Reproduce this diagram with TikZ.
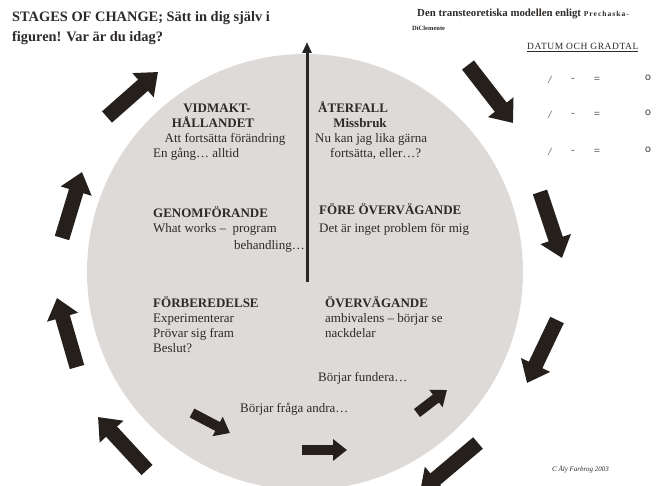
\documentclass[tikz,border=0pt]{standalone}
\usepackage{fontspec}
\setmainfont{Liberation Serif}
\usetikzlibrary{arrows.meta}
\definecolor{wheel}{RGB}{222,218,216}
\definecolor{arrowc}{RGB}{38,32,28}
\definecolor{ink}{RGB}{45,42,40}

\begin{document}
\begin{tikzpicture}[x=1pt,y=-1pt,
    txt/.style={anchor=base west,inner sep=0pt,text=ink,font=\fontsize{13}{15}\selectfont},
    hd/.style={txt,font=\fontsize{13}{15}\selectfont\bfseries},
    note/.style={anchor=base west,inner sep=0pt,text=ink,font=\fontsize{6.5}{8}\selectfont\bfseries},
    datemark/.style={anchor=center,inner sep=0pt,text=black!60,font=\fontsize{11}{12}\selectfont\bfseries},
    blk/.style={draw=arrowc,line width=15pt,-{Triangle[width=31pt,length=20pt]}},
    sblk/.style={draw=arrowc,line width=10pt,-{Triangle[width=21pt,length=14pt]}}]
    \useasboundingbox[fill=white] (0,0) rectangle (657,486);
    \fill[wheel] (305,272) circle (218);

    \coordinate (axb) at (307,282);
    \coordinate (axt) at (307,42);
    \draw[draw=black!85,line width=3pt,-{Triangle[width=9pt,length=11pt]}] (axb) -- (axt);

    \node[txt,font=\fontsize{14.4}{18}\selectfont\bfseries] (t1) at (12,22) {STAGES OF CHANGE; Sätt in dig själv i};
    \node[txt,font=\fontsize{14.4}{18}\selectfont\bfseries] (t2) at (12,42) {figuren! Var är du idag?};

    \node[note,font=\fontsize{10.8}{12}\selectfont\bfseries] (den) at (417,17) {Den transteoretiska modellen enligt {\fontsize{7.5}{8}\selectfont\addfontfeatures{LetterSpace=14}Prechaska-}};
    \node[note] (dic) at (412,31) {DiClemente};
    \node[txt,font=\fontsize{9.5}{10}\selectfont\addfontfeatures{LetterSpace=6}] (datum) at (527,50) {\underline{DATUM OCH GRADTAL}};

    \node[datemark] (s1) at (550,80) {\itshape /};
    \node[datemark] (d1) at (573,80) {-};
    \node[datemark] (e1) at (597,80) {=};
    \node[datemark,text=black!80,font=\fontsize{12}{12}\selectfont\sffamily] (o1) at (648,78) {o};
    \node[datemark] (s2) at (550,115) {\itshape /};
    \node[datemark] (d2) at (573,115) {-};
    \node[datemark] (e2) at (597,115) {=};
    \node[datemark,text=black!80,font=\fontsize{12}{12}\selectfont\sffamily] (o2) at (648,113) {o};
    \node[datemark] (s3) at (550,152) {\itshape /};
    \node[datemark] (d3) at (573,152) {-};
    \node[datemark] (e3) at (597,152) {=};
    \node[datemark,text=black!80,font=\fontsize{12}{12}\selectfont\sffamily] (o3) at (648,150) {o};

    \node[hd,anchor=base] (vid) at (217,113) {VIDMAKT-};
    \node[hd,anchor=base] (hall) at (213,128) {HÅLLANDET};
    \node[txt,anchor=base] (att) at (225,143) {Att fortsätta förändring};
    \node[txt] (alltid) at (153,158) {En gång\ldots\ alltid};

    \node[hd] (aterf) at (318,113) {ÅTERFALL};
    \node[hd,anchor=base] (miss) at (360,128) {Missbruk};
    \node[txt] (nukan) at (315,143) {Nu kan jag lika gärna};
    \node[txt] (eller) at (330,158) {fortsätta, eller\ldots?};

    \node[hd] (genom) at (153,218) {GENOMFÖRANDE};
    \node[txt] (works) at (153,233) {What works --\ \ program};
    \node[txt,anchor=base east] (beh) at (305,250) {behandling\ldots};

    \node[hd] (fore) at (319,215) {FÖRE ÖVERVÄGANDE};
    \node[txt] (inget) at (319,233) {Det är inget problem för mig};

    \node[hd] (forb) at (153,308) {FÖRBEREDELSE};
    \node[txt] (exp) at (153,323) {Experimenterar};
    \node[txt] (prov) at (153,338) {Prövar sig fram};
    \node[txt] (beslut) at (153,353) {Beslut?};

    \node[hd] (overv) at (325,308) {ÖVERVÄGANDE};
    \node[txt] (ambi) at (325,323) {ambivalens -- börjar se};
    \node[txt] (nack) at (325,338) {nackdelar};

    \node[txt] (fund) at (318,382) {Börjar fundera\ldots};
    \node[txt] (fraga) at (240,413) {Börjar fråga andra\ldots};

    \node[txt,font=\fontsize{7}{8}\selectfont\itshape] (copy) at (552,472) {C Åly Farbrog 2003};

    \coordinate (a1s) at (107,117); \coordinate (a1e) at (158,72);
    \coordinate (a2s) at (468,65);  \coordinate (a2e) at (513,123);
    \coordinate (a3s) at (540,192); \coordinate (a3e) at (562,258);
    \coordinate (a4s) at (557,320); \coordinate (a4e) at (527,383);
    \coordinate (a5s) at (478,443); \coordinate (a5e) at (420,492);
    \coordinate (a6s) at (417,413); \coordinate (a6e) at (447,390);
    \coordinate (a7s) at (302,450); \coordinate (a7e) at (347,450);
    \coordinate (a8s) at (192,413); \coordinate (a8e) at (230,433);
    \coordinate (a9s) at (147,470); \coordinate (a9e) at (98,417);
    \coordinate (a10s) at (77,367); \coordinate (a10e) at (57,298);
    \coordinate (a11s) at (62,238); \coordinate (a11e) at (82,172);

    \draw[blk] (a1s) -- (a1e);
    \draw[blk] (a2s) -- (a2e);
    \draw[blk] (a3s) -- (a3e);
    \draw[blk] (a4s) -- (a4e);
    \draw[blk] (a5s) -- (a5e);
    \draw[sblk] (a6s) -- (a6e);
    \draw[sblk] (a7s) -- (a7e);
    \draw[sblk] (a8s) -- (a8e);
    \draw[blk] (a9s) -- (a9e);
    \draw[blk] (a10s) -- (a10e);
    \draw[blk] (a11s) -- (a11e);
\end{tikzpicture}
\end{document}
